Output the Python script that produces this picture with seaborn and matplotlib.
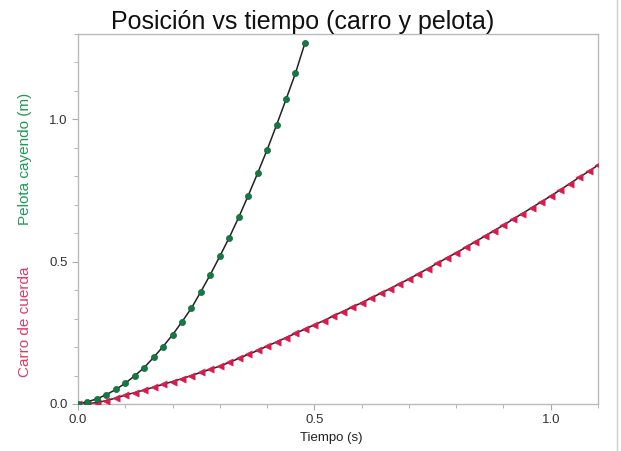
import numpy as np
import pandas as pd
import matplotlib
matplotlib.use("Agg")
import matplotlib.pyplot as plt
from matplotlib.ticker import MultipleLocator
from matplotlib.lines import Line2D
import seaborn as sns

# Ball (pelota cayendo)
ball_t = [0.00, 0.02, 0.04, 0.06, 0.08, 0.10, 0.12, 0.14, 0.16, 0.18, 0.20, 0.22,
          0.24, 0.26, 0.28, 0.30, 0.32, 0.34, 0.36, 0.38, 0.40, 0.42, 0.44, 0.46, 0.48]
ball_y = [0.000, 0.008, 0.018, 0.033, 0.051, 0.073, 0.099, 0.128, 0.164, 0.202, 0.243, 0.289,
          0.337, 0.395, 0.455, 0.519, 0.585, 0.656, 0.732, 0.811, 0.893, 0.980, 1.070, 1.162, 1.268]

# Car (carro de cuerda)
car_t = [0.00, 0.02, 0.04, 0.06, 0.08, 0.10, 0.12, 0.14, 0.16, 0.18, 0.20, 0.22, 0.24, 0.26,
         0.28, 0.30, 0.32, 0.34, 0.36, 0.38, 0.40, 0.42, 0.44, 0.46, 0.48, 0.50, 0.52, 0.54,
         0.56, 0.58, 0.60, 0.62, 0.64, 0.66, 0.68, 0.70, 0.72, 0.74, 0.76, 0.78, 0.80, 0.82,
         0.84, 0.86, 0.88, 0.90, 0.92, 0.94, 0.96, 0.98, 1.00, 1.02, 1.04, 1.06, 1.08, 1.10]
car_y = [0.000, 0.001, 0.005, 0.012, 0.021, 0.031, 0.040, 0.049, 0.059, 0.069, 0.079, 0.089,
         0.100, 0.111, 0.122, 0.133, 0.146, 0.160, 0.174, 0.188, 0.203, 0.218, 0.233, 0.248,
         0.263, 0.278, 0.293, 0.309, 0.325, 0.340, 0.356, 0.372, 0.389, 0.405, 0.422, 0.439,
         0.457, 0.476, 0.494, 0.513, 0.531, 0.550, 0.570, 0.589, 0.609, 0.628, 0.649, 0.669,
         0.690, 0.710, 0.731, 0.752, 0.774, 0.796, 0.817, 0.839]

title = "Posición vs tiempo (carro y pelota)"
xlabel = "Tiempo (s)"
ylabel_car = "Carro de cuerda"
ylabel_ball = "Pelota cayendo (m)"

sns.set_style("white")
plt.rcParams['font.family'] = ['Liberation Sans', 'DejaVu Sans']

ball = pd.DataFrame({"t": ball_t, "y": ball_y})
car = pd.DataFrame({"t": car_t, "y": car_y})

green = "#137a44"
red = "#d81b4f"

fig = plt.figure(figsize=(6.21, 4.51), dpi=100)
ax = fig.add_axes([78/621, 1-404/451, (598-78)/621, (404-34)/451])

sns.lineplot(data=car, x="t", y="y", ax=ax, color="#222222", linewidth=1.1, zorder=2)
sns.lineplot(data=ball, x="t", y="y", ax=ax, color="#222222", linewidth=1.1, zorder=2)
sns.scatterplot(data=car, x="t", y="y", ax=ax, marker="<", color=red, s=28,
                edgecolor=red, linewidth=0.3, zorder=3)
sns.scatterplot(data=ball, x="t", y="y", ax=ax, marker="o", color=green, s=20,
                edgecolor="#0c5a30", linewidth=0.4, zorder=3)

ax.set_xlim(0, 1.1)
ax.set_ylim(0, 1.3)
ax.xaxis.set_major_locator(MultipleLocator(0.5))
ax.xaxis.set_minor_locator(MultipleLocator(0.1))
ax.yaxis.set_major_locator(MultipleLocator(0.5))
ax.yaxis.set_minor_locator(MultipleLocator(0.1))
ax.xaxis.set_major_formatter(matplotlib.ticker.FormatStrFormatter("%.1f"))
ax.yaxis.set_major_formatter(matplotlib.ticker.FormatStrFormatter("%.1f"))
ax.tick_params(which="both", direction="out", color="#aaaaaa", labelcolor="#333333",
               labelsize=9.5, bottom=True, left=True)
ax.tick_params(which="major", length=4, width=0.8)
ax.tick_params(which="minor", length=3, width=0.6)
for s in ax.spines.values():
    s.set_color("#bbbbbb")
    s.set_linewidth(1.0)

ax.set_xlabel("")
ax.set_ylabel("")
fig.text(331/621, 1-438/451, xlabel, fontsize=9.5, color="#222222", ha="center", va="center")
fig.text(303/621, 1-22/451, title, fontsize=18, color="#111111", ha="center", va="center")

fig.text(25/621, 1-322/451, ylabel_car, rotation=90, color="#e23a63", fontsize=11,
         ha="center", va="center")
fig.text(25/621, 1-159/451, ylabel_ball, rotation=90, color="#1f9a55", fontsize=11,
         ha="center", va="center")

fig.add_artist(Line2D([617/621, 617/621], [0, 1], color="#cccccc", linewidth=1.0))

fig.savefig("out.png", dpi=100)
